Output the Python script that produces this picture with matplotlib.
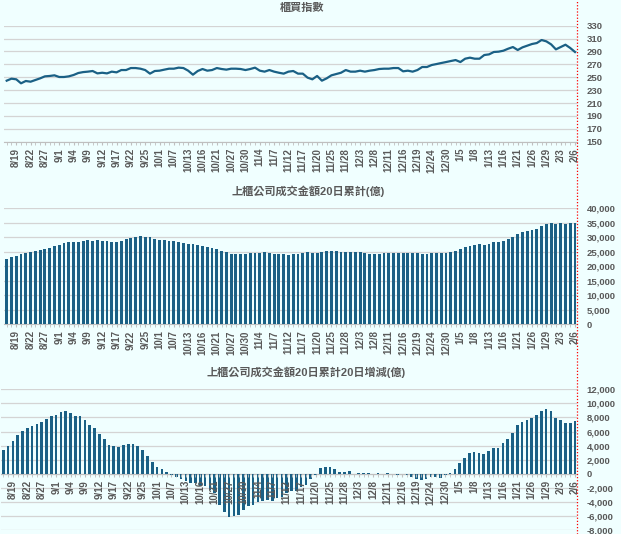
import matplotlib
matplotlib.use('Agg')
import matplotlib.pyplot as plt
from matplotlib.ticker import FuncFormatter, FixedLocator, MultipleLocator

plt.rcParams['font.family'] = ['Liberation Sans', 'Noto Sans CJK TC', 'DejaVu Sans']

dates = ['8/15', '8/18', '8/19', '8/20', '8/21', '8/22', '8/25', '8/26', '8/27', '8/28', '8/29',
         '9/1', '9/2', '9/3', '9/4', '9/5', '9/8', '9/9', '9/10', '9/11', '9/12', '9/15', '9/16',
         '9/17', '9/18', '9/19', '9/22', '9/23', '9/24', '9/25', '9/26', '9/30',
         '10/1', '10/2', '10/3', '10/7', '10/8', '10/9', '10/13', '10/14', '10/15', '10/16', '10/17',
         '10/20', '10/21', '10/22', '10/23', '10/27', '10/28', '10/29', '10/30', '10/31',
         '11/3', '11/4', '11/5', '11/6', '11/7', '11/10', '11/11', '11/12', '11/13', '11/14',
         '11/17', '11/18', '11/19', '11/20', '11/21', '11/24', '11/25', '11/26', '11/27', '11/28',
         '12/1', '12/2', '12/3', '12/4', '12/5', '12/8', '12/9', '12/10', '12/11', '12/12',
         '12/15', '12/16', '12/17', '12/18', '12/19', '12/22', '12/23', '12/24', '12/26', '12/29',
         '12/30', '12/31',
         '1/2', '1/5', '1/6', '1/7', '1/8', '1/9', '1/12', '1/13', '1/14', '1/15', '1/16', '1/19',
         '1/20', '1/21', '1/22', '1/23', '1/26', '1/27', '1/28', '1/29', '1/30',
         '2/2', '2/3', '2/4', '2/5', '2/6']

index_vals = [244.7, 247.8, 246.8, 240.6, 244.2, 243.1, 245.7, 248.3, 251.4, 252.0,
              253.0, 250.4, 250.4, 251.4, 253.5, 256.6, 258.0, 258.7, 259.7, 256.0,
              257.0, 256.0, 258.7, 257.6, 261.2, 261.2, 264.3, 264.3, 263.3, 261.2,
              255.6, 259.7, 260.2, 261.8, 263.3, 263.3, 264.9, 264.3, 260.2, 254.0,
              259.7, 262.8, 260.2, 261.2, 264.3, 262.8, 261.8, 263.3, 263.3, 262.8,
              261.2, 262.8, 264.9, 260.2, 258.7, 261.2, 258.7, 257.0, 255.6, 258.7,
              259.7, 255.6, 255.6, 249.4, 246.8, 252.0, 244.7, 248.3, 253.0, 255.0,
              257.0, 261.2, 258.7, 258.7, 260.2, 258.7, 260.2, 261.2, 262.8, 263.3,
              263.3, 264.3, 264.3, 259.2, 260.2, 258.7, 261.2, 265.9, 265.9, 269.0,
              270.5, 272.1, 273.6, 275.2, 276.7, 273.6, 278.8, 280.4, 278.8, 278.8,
              284.5, 285.5, 289.2, 289.7, 291.2, 294.3, 296.9, 292.3, 296.4, 299.0,
              301.6, 303.1, 307.8, 305.7, 301.0, 293.3, 296.9, 300.5, 295.4, 289.2]

cum20 = [22500, 23200, 23500, 24100, 24400, 24900, 25200, 25600, 25900, 26400,
         27000, 27300, 27900, 28200, 28400, 28400, 28700, 29100, 28700, 29100,
         28700, 28700, 28400, 28400, 28700, 29500, 29900, 30100, 30400, 30100,
         30100, 29400, 29100, 29100, 28700, 28700, 28400, 28000, 27700, 27700,
         27300, 27000, 26600, 26300, 25900, 25200, 24900, 24200, 24200, 24200,
         24200, 24500, 24500, 24500, 24900, 24500, 24200, 24200, 24200, 23900,
         24200, 24200, 24500, 24900, 24500, 24500, 24900, 25200, 25200, 25200,
         24900, 24900, 24900, 24900, 24900, 24500, 24200, 24200, 24200, 24500,
         24500, 24500, 24500, 24500, 24500, 24500, 24500, 24200, 24200, 24500,
         24500, 24500, 24500, 24900, 25200, 25900, 26600, 27000, 27300, 27600,
         27300, 27700, 28400, 28400, 28700, 29400, 30100, 31100, 31800, 32200,
         32500, 32900, 33900, 34600, 34900, 34600, 34900, 34600, 34900, 34900]

chg20 = [3380, 3900, 4620, 5470, 6050, 6470, 6760, 7090, 7380, 7760,
         8190, 8330, 8760, 8900, 8620, 8190, 8190, 7620, 6900, 6470,
         5620, 4900, 4050, 3900, 3760, 4050, 4190, 4190, 3900, 3330,
         2480, 1620, 900, 620, 190, -190, -480, -760, -1050, -1290,
         -1330, -1760, -1760, -2400, -2800, -4470, -5470, -6140, -6050, -5900,
         -5190, -4620, -4470, -4000, -3900, -3810, -3900, -3470, -3330, -2710,
         -2480, -2480, -1900, -1670, -810, -200, 760, 1000, 1000, 710,
         290, 240, 430, 0, 140, 140, 100, 0, 100, 0,
         100, 0, -140, 0, -190, -430, -710, -850, -700, -500,
         -450, -580, -260, 120, 600, 1480, 2280, 2900, 3050, 2900,
         2760, 3190, 3620, 3620, 4330, 4900, 5760, 6900, 7330, 7620,
         7900, 8330, 8900, 9190, 8900, 7900, 7620, 7190, 7190, 7470]

titles = ['櫃買指數', '上櫃公司成交金額20日累計(億)', '上櫃公司成交金額20日累計20日增減(億)']

BG = '#F0FFFF'
MAIN = '#1A6085'
GRID = '#D4D4D4'
TXT = '#595959'
W, H = 621, 534

fig = plt.figure(figsize=(W / 100, H / 100), dpi=100, facecolor=BG)


def px_axes(left, top, right, bottom):
    return fig.add_axes([left / W, 1 - bottom / H, (right - left) / W, (bottom - top) / H])


ax1 = px_axes(4.3, 25.7, 577.4, 141.7)
ax2 = px_axes(4.3, 208.3, 577.4, 324.0)
ax3 = px_axes(0.9, 389.4, 577.4, 529.8)

# move bottom spine of the change panel to zero first (this resets ticks)
ax3.spines['bottom'].set_position(('data', 0))

x = list(range(len(dates)))

ax1.plot(x, index_vals, color=MAIN, lw=1.6, zorder=2)
ax2.bar(x, cum20, width=0.6, color=MAIN, zorder=2)
ax3.bar(x, chg20, width=0.55, color=MAIN, zorder=2)

ylims = [(150, 330), (0, 40000), (-8000, 12000)]
yticks = [list(range(150, 331, 20)), list(range(0, 40001, 5000)), list(range(-8000, 12001, 2000))]

fmt_int = FuncFormatter(lambda v, p: f'{v:.0f}')
fmt_k = FuncFormatter(lambda v, p: f'{v:,.0f}')
ax1.yaxis.set_major_formatter(fmt_int)
ax2.yaxis.set_major_formatter(fmt_k)
ax3.yaxis.set_major_formatter(fmt_k)

tick_idx = list(range(2, len(dates), 3))
for ax, yl, yt in zip((ax1, ax2, ax3), ylims, yticks):
    ax.set_facecolor(BG)
    ax.set_xlim(-0.5, len(dates) - 0.5)
    ax.set_ylim(*yl)
    ax.yaxis.set_major_locator(FixedLocator(yt))
    for v in yt:
        ax.axhline(v, color=GRID, lw=0.9, zorder=0.5)
    for s in ('top', 'left', 'right'):
        ax.spines[s].set_visible(False)
    ax.spines['bottom'].set_color('#BFBFBF')
    ax.spines['bottom'].set_linewidth(0.8)
    ax.spines['bottom'].set_zorder(1.5)
    ax.yaxis.tick_right()
    ax.tick_params(axis='y', length=0, pad=6.5, labelsize=6.8, labelcolor=TXT)
    for lab in ax.get_yticklabels():
        lab.set_fontweight('bold')
    ax.xaxis.set_major_locator(FixedLocator(tick_idx))
    ax.xaxis.set_minor_locator(FixedLocator(x))
    ax.set_xticklabels([dates[i] for i in tick_idx], rotation=90, fontsize=7,
                       color=TXT, fontweight='bold')
    ax.tick_params(axis='x', which='both', length=2, color='#BFBFBF', pad=2.5)
    ax.xaxis.set_zorder(3)

title_pos = [(302, 8), (308, 191), (306, 372)]
for t, (tx, ty) in zip(titles, title_pos):
    fig.text(tx / W, 1 - ty / H, t, ha='center', va='center', fontsize=8,
             fontweight='bold', color=TXT)

fig.add_artist(plt.Line2D([577 / W, 577 / W], [0, 1], transform=fig.transFigure,
                          color='red', lw=0.9, ls=(0, (1, 1.5))))

fig.savefig('out.png', dpi=100, facecolor=BG)
